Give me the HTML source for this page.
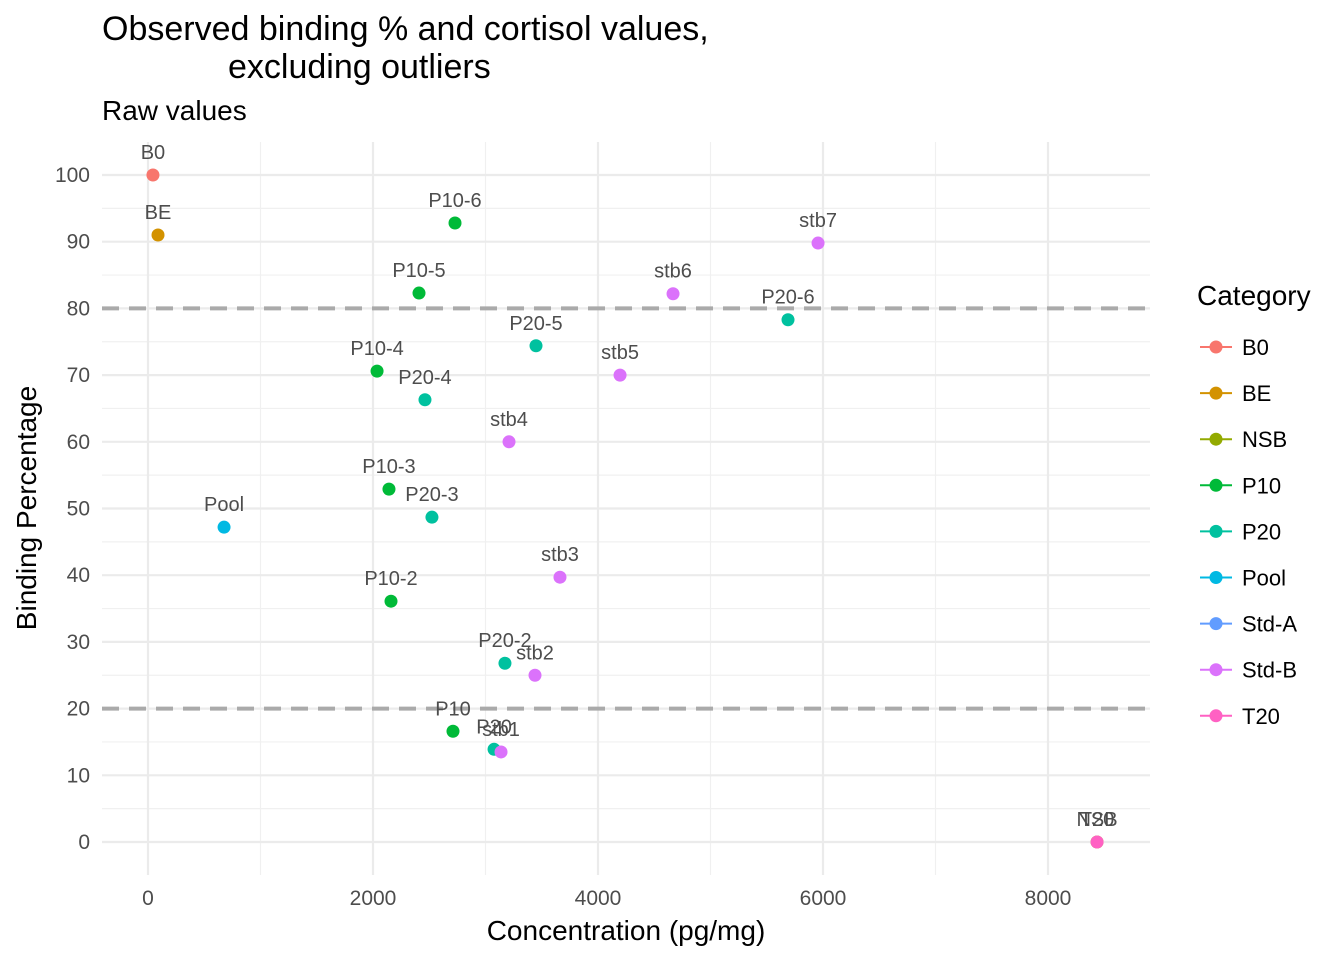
<!DOCTYPE html>
<html><head><meta charset="utf-8"><style>
body{margin:0;background:#fff;}
svg text{font-family:"Liberation Sans",Arial,sans-serif;}
</style></head><body>
<svg id="chart" width="1344" height="960" xmlns="http://www.w3.org/2000/svg">
<rect width="1344" height="960" fill="#fff"/>
<text x="102" y="40" font-size="34" fill="#000">Observed binding % and cortisol values,</text>
<text x="228" y="78" font-size="34" fill="#000">excluding outliers</text>
<text x="102" y="120" font-size="28" fill="#000">Raw values</text>
<g id="grid"></g><g id="marks"></g><g id="axes"></g><g id="legend"></g>
<text x="626" y="940" font-size="28" text-anchor="middle" fill="#000">Concentration (pg/mg)</text>
<text transform="translate(36,508) rotate(-90)" font-size="28" text-anchor="middle" fill="#000">Binding Percentage</text>
</svg>
<script>
const labels=["B0","BE","P10-6","P10-5","P10-4","P10-3","P10-2","P10","P20-6","P20-5","P20-4","P20-3","P20-2","P20","Pool","stb7","stb6","stb5","stb4","stb3","stb2","stb1","NSB","T20"];
const cats=["B0","BE","P10","P10","P10","P10","P10","P10","P20","P20","P20","P20","P20","P20","Pool","Std-B","Std-B","Std-B","Std-B","Std-B","Std-B","Std-B","NSB","T20"];
const concVals=[44,89,2729,2409,2036,2142,2160,2711,5689,3449,2462,2524,3173,3076,676,5956,4667,4196,3209,3662,3440,3138,8436,8436];
const bindVals=[100,91,92.8,82.3,70.6,52.9,36.1,16.6,78.3,74.4,66.3,48.7,26.8,13.9,47.2,89.8,82.2,70.0,60,39.7,25.0,13.5,0,0];
const legendCats=["B0","BE","NSB","P10","P20","Pool","Std-A","Std-B","T20"];
const legendColors=["#F8766D","#D39200","#93AA00","#00BA38","#00C19F","#00B9E3","#619CFF","#DB72FB","#FF61C3"];
const xTicks=[0,2000,4000,6000,8000];
const yTicks=[0,10,20,30,40,50,60,70,80,90,100];
const refLines=[80,20];
const NS="http://www.w3.org/2000/svg";
const X=v=>148+v*0.1125, Y=v=>842-v*6.67;
const L=102,R=1150,T=142,B=875;
function mk(tag,at,parent){const e=document.createElementNS(NS,tag);for(const k in at)e.setAttribute(k,at[k]);document.getElementById(parent).appendChild(e);return e;}
for(let v=-1000;v<=9000;v+=2000){const x=X(v);if(x<L||x>R)continue;
 const e=mk("line",{x1:x,x2:x,y1:T,y2:B,stroke:"#F0F0F0","stroke-width":1.2},"grid");
 
 }
for(let v=-5;v<=105;v+=10){const y=Y(v);if(y<T||y>B)continue;
 const e=mk("line",{x1:L,x2:R,y1:y,y2:y,stroke:"#F0F0F0","stroke-width":1.2},"grid");
 
 }
xTicks.forEach(v=>{const x=X(v);
 const e=mk("line",{x1:x,x2:x,y1:T,y2:B,stroke:"#EBEBEB","stroke-width":2.2},"grid");
 
 
 const t=mk("text",{x:x,y:905,"font-size":21,"text-anchor":"middle",fill:"#4D4D4D"},"axes");t.textContent=v;
 
 });
yTicks.forEach(v=>{const y=Y(v);
 const e=mk("line",{x1:L,x2:R,y1:y,y2:y,stroke:"#EBEBEB","stroke-width":2.2},"grid");
 
 
 const t=mk("text",{x:90,y:y+7,"font-size":21,"text-anchor":"end",fill:"#4D4D4D"},"axes");t.textContent=v;
 
 });
refLines.forEach(v=>{const e=mk("line",{x1:L,x2:R,y1:Y(v),y2:Y(v),stroke:"#AAAAAA","stroke-width":4,"stroke-dasharray":"17,10"},"grid");
 
 });
labels.forEach((lb,i)=>{const c=legendColors[legendCats.indexOf(cats[i])];
 const x=X(concVals[i]),y=Y(bindVals[i]);
 const p=mk("circle",{cx:x,cy:y,r:6.5,fill:c},"marks");
 
 
 const t=mk("text",{x:x,y:y-16,"font-size":20,"text-anchor":"middle",fill:"#4D4D4D"},"marks");t.textContent=lb;
 
 });
const lt=mk("text",{x:1197,y:305,"font-size":28,fill:"#000"},"legend");lt.textContent="Category";


legendCats.forEach((c,i)=>{const y=347+i*46.1;
 const g=mk("g",{},"legend");
 
 
 const a=document.createElementNS(NS,"line");a.setAttribute("x1",1200);a.setAttribute("x2",1232);a.setAttribute("y1",y);a.setAttribute("y2",y);a.setAttribute("stroke",legendColors[i]);a.setAttribute("stroke-width",2);g.appendChild(a);
 const b=document.createElementNS(NS,"circle");b.setAttribute("cx",1216);b.setAttribute("cy",y);b.setAttribute("r",6.5);b.setAttribute("fill",legendColors[i]);g.appendChild(b);
 const t=document.createElementNS(NS,"text");t.setAttribute("x",1242);t.setAttribute("y",y+8);t.setAttribute("font-size",22);t.textContent=c;g.appendChild(t);});
</script>
</body></html>
